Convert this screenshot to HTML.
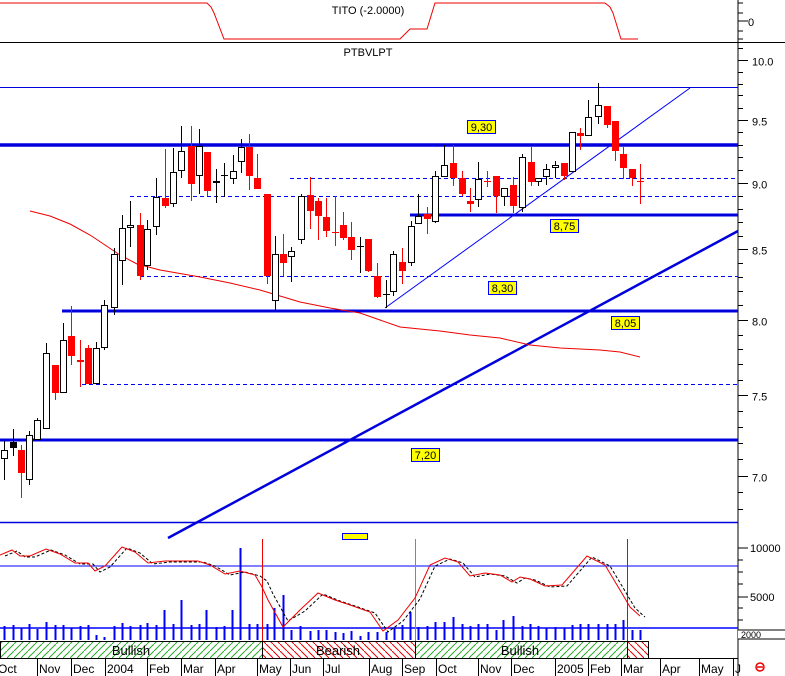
<!DOCTYPE html>
<html><head><meta charset="utf-8"><style>
html,body{margin:0;padding:0;background:#fff;}
svg{display:block;font-family:"Liberation Sans",sans-serif;}
</style></head><body>
<svg id="s" width="785" height="676" xmlns="http://www.w3.org/2000/svg">
<defs>
<pattern id="hg" width="7" height="7" patternUnits="userSpaceOnUse" patternTransform="rotate(0)"><path d="M0,7 L7,0" stroke="#2a2" stroke-width="1"/></pattern>
<pattern id="hr" width="7" height="7" patternUnits="userSpaceOnUse"><path d="M0,0 L7,7" stroke="#e00" stroke-width="1"/></pattern>
</defs>
<g id="g"></g>
</svg>
<script>
var g=document.getElementById('g'),h='';
function L(x1,y1,x2,y2,c,w,d){h+='<line x1="'+x1+'" y1="'+y1+'" x2="'+x2+'" y2="'+y2+'" stroke="'+c+'" stroke-width="'+(w||1)+'"'+(d?' stroke-dasharray="'+d+'"':'')+'/>';}
function T(x,y,t,s,a,c){h+='<text x="'+x+'" y="'+y+'" font-size="'+(s||11)+'" text-anchor="'+(a||'start')+'" fill="'+(c||'#000')+'">'+t+'</text>';}
function R(x,y,w,hh,f,st){h+='<rect x="'+x+'" y="'+y+'" width="'+w+'" height="'+hh+'" fill="'+f+'"'+(st?' stroke="'+st+'"':'')+'/>';}
function P(pts,c,w,d){h+='<polyline fill="none" points="'+pts.map(function(p){return p.join(',')}).join(' ')+'" stroke="'+c+'" stroke-width="'+(w||1)+'"'+(d?' stroke-dasharray="'+d+'"':'')+'/>';}
function Y(p){return 60+1165*Math.log(10/p);}
// top panel
P([[0,3],[207,3],[211,7],[214,13],[224,39],[400,39],[410,29],[427,29],[435,3],[605,3],[610,7],[613,13],[621,39],[638,39]],'#e00',1);
T(368,14,'TITO (-2.0000)',11,'middle');
L(0,42.5,785,42.5,'#000',1);
T(368,56,'PTBVLPT',11,'middle');
L(738,0,738,676,'#000',1);
[3,13,21,31,39].forEach(function(y){L(738,y,743,y,'#000');});L(738,21,748,21,'#000');T(748,26,'0',11);
// price ticks
for(var i=68;i<=102;i++){var p=i/10,y=Math.round(Y(p))+.5;if(y<44||y>520)continue;var maj=(i%5==0);L(738,y,maj?748:743,y,'#000');if(maj)T(752,y+5,(p).toFixed(1),11);}
// horizontal lines
L(0,87.5,738,87.5,'#00d',1);
L(0,145,738,145,'#00d',3.5);
L(410,215,738,215,'#00d',3);
L(62,311,738,311,'#00d',3);
L(0,440,738,440,'#00d',3);
L(290,178.5,738,178.5,'#00f',1,'4,3');
L(130,196.5,738,196.5,'#00f',1,'4,3');
L(140,276.5,738,276.5,'#00f',1,'4,3');
L(82,384.5,738,384.5,'#00f',1,'4,3');
L(0,522.5,738,522.5,'#00d',1.5);
// trendlines
L(385,308,690,88,'#00f',1);
L(168,538,738,231,'#00d',2.5);
// MA
P([[30,211],[50,216],[70,224],[90,235],[105,245],[120,255],[137,264],[160,270],[200,277],[230,283],[260,290],[300,302],[330,308],[360,313],[380,320],[400,327],[440,331],[470,335],[500,338],[530,345],[560,348],[600,350],[620,352],[640,357]],'#e00',1);
// candles: x, bodyTop, bodyBot, high, low, type
var C=[[4,450,459,441,480,'w'],[13,442,448,429,456,'k'],[21,450,473,445,498,'r'],[29,435,480,431,485,'w'],[37,420,440,418,440,'w'],[46,353,429,343,429,'w'],[55,365,393,365,400,'r'],[63,340,393,323,393,'w'],[71,336,356,306,365,'r'],[80,360,362,340,387,'r'],[88,348,384,345,384,'r'],[96,348,384,342,384,'w'],[104,305,348,300,350,'w'],
[114,254,308,248,315,'w'],[122,228,261,215,285,'w'],[130,225,228,201,247,'w'],[140,225,276,213,280,'r'],[147,229,266,220,270,'w'],[156,197,227,178,235,'w'],[165,198,206,149,208,'r'],[173,172,204,148,207,'w'],[181,151,171,126,178,'w'],[191,146,184,126,201,'r'],[199,146,176,129,194,'w'],[207,152,191,152,196,'r'],[216,181,183,169,203,'w'],[224,175,176,163,197,'k'],[233,171,179,155,184,'w'],[241,147,162,139,173,'w'],[249,147,176,134,190,'r'],[257,178,189,154,189,'r'],[267,194,276,194,284,'r'],[275,254,301,236,311,'w'],[283,254,263,234,276,'r'],[291,251,257,247,282,'w'],[301,196,240,194,244,'w'],[310,195,211,177,229,'r'],[318,201,216,198,240,'r'],[326,217,231,198,237,'r'],[335,232,233,196,246,'r'],[343,225,238,212,240,'r'],[351,237,250,222,260,'r'],[360,246,247,237,273,'k'],[368,239,271,239,272,'r'],[377,276,297,263,298,'r'],[386,294,295,280,308,'k'],
[393,254,292,251,296,'w'],[402,262,271,248,284,'r'],[411,226,263,221,266,'w'],[418,216,224,194,224,'w'],[427,214,219,207,234,'r'],[435,176,222,171,223,'w'],[444,165,177,145,177,'w'],[453,163,178,145,186,'r'],[462,178,194,171,196,'r'],[470,201,204,188,212,'r'],[478,179,200,162,207,'w'],[487,181,182,171,187,'r'],[496,176,196,176,213,'r'],[504,188,197,188,206,'w'],[513,185,206,177,213,'r'],[522,157,208,154,212,'w'],[531,162,182,146,186,'r'],[538,178,182,178,186,'w'],[546,169,177,164,185,'w'],[555,165,168,161,178,'w'],[564,163,176,163,180,'r'],[572,132,172,132,172,'w'],[580,133,136,128,150,'r'],[588,117,136,100,136,'w'],[598,105,117,83,124,'w'],[607,106,125,106,128,'r'],[615,121,151,121,161,'r'],[623,154,168,146,179,'r'],[632,169,178,169,186,'r'],[640,181,182,164,204,'r']];
C.forEach(function(c){var x=c[0],col=c[5]=='r'?'#f00':'#000';L(x+.5,c[3],x+.5,c[4],col,1);
 var bh=Math.max(c[2]-c[1],1);
 if(c[5]=='r')R(x-3,c[1],7,bh,'#f00');else if(c[5]=='k')R(x-3,c[1],7,bh,'#000');else R(x-2.5,c[1]+.5,6,bh-1<1?1:bh-1,'#fff','#000');});
// labels
function B(x,y,t){R(x+.5,y+.5,28,13,'#ff0','#00f');T(x+14.5,y+11,t,11,'middle');}
B(467,120,'9,30');B(550,219,'8,75');B(488,281,'8,30');B(611,316,'8,05');B(411,448,'7,20');
R(342.5,533.5,25,6,'#ff0','#00f');
// indicator panel
L(0,566,738,566,'#00f',1);L(0,628,738,628,'#00f',1.5);
L(262.5,539,262.5,641,'#e00',1);L(627.5,539,627.5,641,'#e00',1);L(415.5,539,415.5,641,'#2c2',1);
// volume
var V={46:622,104:637,96:635,181:600,164:610,206:610,232:610,240:548,274:608,283:595,410:612,453:617,267:624,300:626,335:632,343:633,351:631,360:636,368:632,377:632,386:632,394:628,402:625,503:620,513:616,522:626,530:624,598:624,588:624,623:620,632:630,640:630,291:630,318:630,326:630,310:631,13:625,4:626,21:628,29:624,37:629,55:625,63:625,71:628,80:626,88:625,114:626,122:623,130:626,140:625,147:623,156:625,173:624,191:625,199:624,216:627,224:626,249:624,257:624,418:627,427:626,435:622,444:622,462:624,470:626,478:624,487:624,496:630,538:626,546:628,555:627,564:628,572:625,580:624,607:624,615:624};
for(var k in V){var xx=+k+.5;L(xx,V[k],xx,640,'#00f',2);}
// indicator lines
var rl=[[0,555],[12,550],[20,556],[30,556],[46,549],[60,554],[75,563],[88,563],[95,571],[105,566],[122,547],[135,552],[148,563],[165,561],[198,561],[210,565],[225,574],[240,571],[255,575],[262,587],[268,600],[283,627],[300,610],[318,593],[335,600],[350,605],[370,612],[383,631],[398,620],[415,598],[430,565],[445,558],[458,562],[470,576],[485,573],[500,575],[512,582],[520,577],[530,579],[545,586],[562,585],[587,556],[605,565],[620,590],[630,607],[640,616]];
P(rl.map(function(p){return [p[0]+5,p[1]+(p[0]>255&&p[0]<300?-6:1)];}),'#000',1,'3,2');
P(rl,'#e00',1);
[[548,'10000'],[597,'5000']].forEach(function(a){L(738,a[0],748,a[0],'#000');T(750,a[0]+4,a[1],11);});
[560,572,584,608,620].forEach(function(y){L(738,y,743,y,'#000');});
R(738,630,46,9,'#fff');L(738,630,785,630,'#000');L(738,639,785,639,'#000');T(741,638,'2000',9);
// sentiment band
R(0,641,262,17,'url(#hg)');R(262,641,153,17,'url(#hr)');R(415,641,212,17,'url(#hg)');R(627,641,21,17,'url(#hr)');
h+='<rect x="0.5" y="641.5" width="648" height="17" fill="none" stroke="#000"/>';
L(262.5,641,262.5,658,'#000');L(415.5,641,415.5,658,'#000');L(627.5,641,627.5,658,'#000');
T(131,655,'Bullish',13,'middle');T(338,655,'Bearish',13,'middle');T(520,655,'Bullish',13,'middle');
L(0,658.5,738,658.5,'#000');
var M=[[0,'Oct'],[37,'Nov'],[71,'Dec'],[105,'2004'],[147,'Feb'],[181,'Mar'],[215,'Apr'],[257,'May'],[290,'Jun'],[323,'Jul'],[369,'Aug'],[402,'Sep'],[436,'Oct'],[478,'Nov'],[511,'Dec'],[555,'2005'],[588,'Feb'],[621,'Mar'],[660,'Apr'],[699,'May'],[733,'J']];
M.forEach(function(m){if(m[0]>0)L(m[0]+.5,658,m[0]+.5,676,'#000');T(m[0]+(m[0]?2:-2),673,m[1],12);});
h+='<circle cx="760" cy="667" r="4" fill="none" stroke="#e00" stroke-width="1.5"/>';L(757,667,763,667,'#e00',1.5);
g.innerHTML=h;
</script>
</body></html>
